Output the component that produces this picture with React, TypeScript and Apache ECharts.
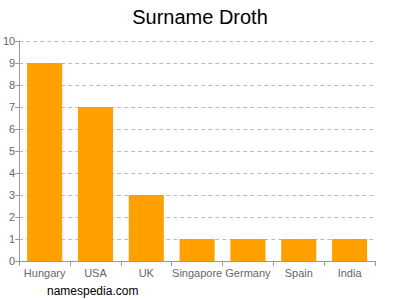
import React, { useEffect, useRef } from "react";
import * as echarts from "echarts";

const categories = ["Hungary", "USA", "UK", "Singapore", "Germany", "Spain", "India"];
const values = [9, 7, 3, 1, 1, 1, 1];

export default function App() {
  const ref = useRef<HTMLDivElement>(null);
  useEffect(() => {
    const chart = echarts.init(ref.current!, null, { renderer: "svg" });
    chart.setOption({
      animation: false,
      title: {
        text: "Surname Droth",
        left: "center",
        top: 2,
        textStyle: { fontFamily: "Liberation Sans, Arial", fontSize: 20, fontWeight: "normal", color: "#000" },
      },
      graphic: [
        {
          type: "text",
          left: 47,
          top: 285,
          style: { text: "namespedia.com", fontFamily: "Liberation Sans, Arial", fontSize: 12, fill: "#000" },
        },
      ],
      grid: { left: 17, right: 25, top: 41, bottom: 39 },
      xAxis: {
        type: "category",
        data: categories,
        axisLine: { lineStyle: { color: "#999" } },
        axisTick: { show: true, alignWithLabel: false, lineStyle: { color: "#999" } },
        axisLabel: { color: "#666", fontSize: 11, fontFamily: "Liberation Sans, Arial", margin: 6, interval: 0 },
      },
      yAxis: {
        type: "value",
        min: 0,
        max: 10,
        interval: 1,
        axisLine: { show: true, lineStyle: { color: "#999" } },
        axisTick: { show: true, length: 4, lineStyle: { color: "#999" } },
        axisLabel: { color: "#666", fontSize: 11, fontFamily: "Liberation Sans, Arial", margin: 4 },
        splitLine: { lineStyle: { color: "#bbb", type: [4, 3] } },
      },
      series: [
        {
          type: "bar",
          data: values,
          barCategoryGap: "31%",
          itemStyle: { color: "#ffa000" },
        },
      ],
    });
    return () => chart.dispose();
  }, []);
  return <div ref={ref} style={{ width: 400, height: 300, position: "absolute", left: 0, top: 0 }} />;
}
